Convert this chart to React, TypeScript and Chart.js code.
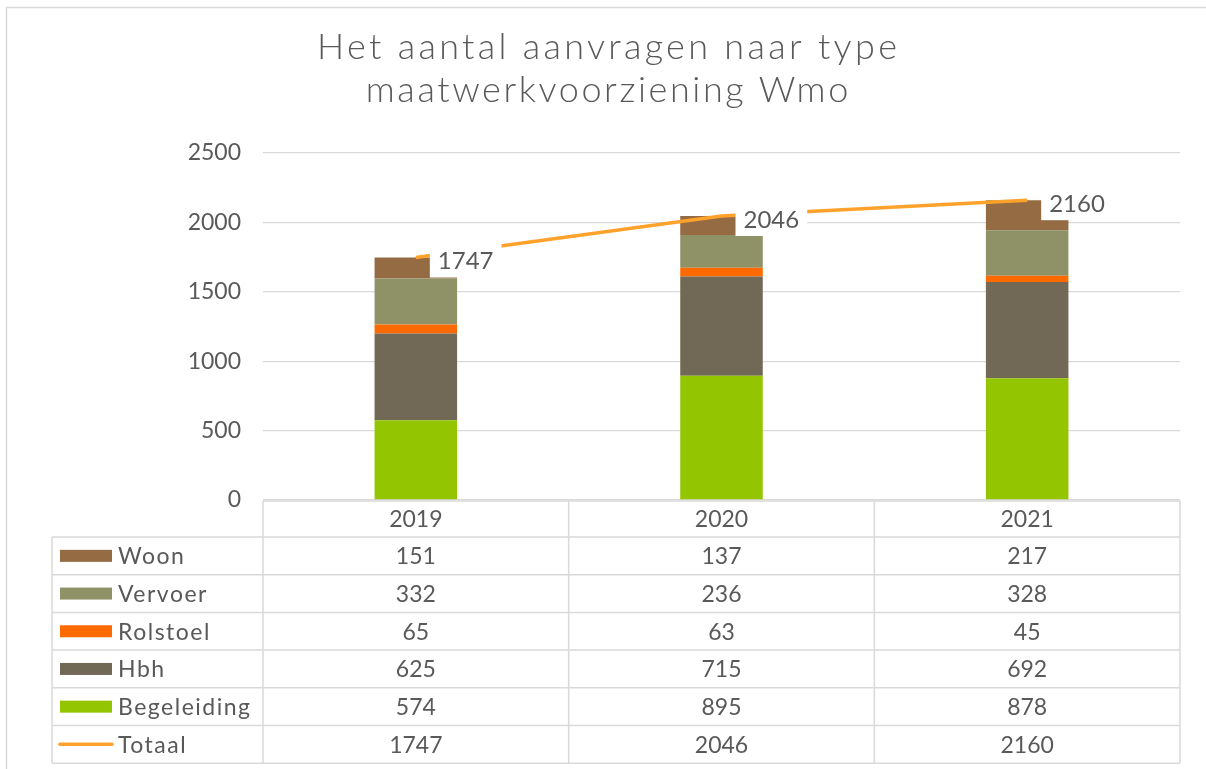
import React, { useEffect, useRef } from "react";
import { Chart, registerables } from "chart.js";

Chart.register(...registerables);

const categories = ["2019", "2020", "2021"];
const woon = [151, 137, 217];
const vervoer = [332, 236, 328];
const rolstoel = [65, 63, 45];
const hbh = [625, 715, 692];
const begeleiding = [574, 895, 878];
const totaal = [1747, 2046, 2160];

const titleLines = ["Het aantal aanvragen naar type", "maatwerkvoorziening Wmo"];

const C_WOON = "#946B42";
const C_VERVOER = "#8F9166";
const C_ROLSTOEL = "#FF6A00";
const C_HBH = "#726856";
const C_BEGEL = "#93C500";
const C_TOTAAL = "#FFA22B";
const TEXT = "#595959";
const GRID = "#d9d9d9";
const FONT = "Lato";

const tableRows = [
  { name: "Woon", values: woon, color: C_WOON, line: false },
  { name: "Vervoer", values: vervoer, color: C_VERVOER, line: false },
  { name: "Rolstoel", values: rolstoel, color: C_ROLSTOEL, line: false },
  { name: "Hbh", values: hbh, color: C_HBH, line: false },
  { name: "Begeleiding", values: begeleiding, color: C_BEGEL, line: false },
  { name: "Totaal", values: totaal, color: C_TOTAAL, line: true },
];

function centeredSpaced(ctx: any, text: string, cx: number, y: number, spacing: number) {
  ctx.letterSpacing = `${spacing}px`;
  const w = ctx.measureText(text).width - spacing;
  ctx.textAlign = "left";
  ctx.fillText(text, cx - w / 2, y);
  ctx.letterSpacing = "0px";
}

const framePlugin = {
  id: "frame",
  beforeDraw(chart: any) {
    const ctx = chart.ctx;
    ctx.save();
    ctx.fillStyle = "#ffffff";
    ctx.fillRect(0, 0, chart.width, chart.height);
    ctx.strokeStyle = GRID;
    ctx.lineWidth = 1.5;
    ctx.beginPath();
    ctx.moveTo(6.5, chart.height);
    ctx.lineTo(6.5, 7.5);
    ctx.lineTo(chart.width, 7.5);
    ctx.stroke();
    ctx.fillStyle = TEXT;
    ctx.font = `300 36px ${FONT}`;
    ctx.textBaseline = "alphabetic";
    centeredSpaced(ctx, titleLines[0], 607, 59, 3.3);
    centeredSpaced(ctx, titleLines[1], 607, 102, 2.6);
    ctx.restore();
  },
};

const labelPlugin = {
  id: "totLabels",
  afterDatasetsDraw(chart: any) {
    const ctx = chart.ctx;
    const meta = chart.getDatasetMeta(5);
    ctx.save();
    ctx.font = `24px ${FONT}`;
    ctx.textAlign = "left";
    ctx.textBaseline = "middle";
    meta.data.forEach((pt: any, i: number) => {
      const bx = pt.x + 14;
      const cy = pt.y + 3;
      const txt = String(totaal[i]);
      const w = ctx.measureText(txt).width + 16;
      ctx.fillStyle = "#ffffff";
      ctx.fillRect(bx, cy - 17, w, 34);
      ctx.fillStyle = TEXT;
      ctx.fillText(txt, bx + 8, cy + 1);
    });
    ctx.restore();
  },
};

const tablePlugin = {
  id: "dataTable",
  afterDraw(chart: any) {
    const ctx = chart.ctx;
    const area = chart.chartArea;
    const xs = chart.scales.x;
    const left = area.left;
    const right = area.right;
    const colW = (right - left) / categories.length;
    const tableLeft = 52;
    const headTop = area.bottom + 1;
    const headH = 36;
    const rowH = 37.7;
    const bodyTop = headTop + headH;
    const bottom = bodyTop + rowH * tableRows.length;
    ctx.save();
    ctx.strokeStyle = GRID;
    ctx.lineWidth = 1.5;
    ctx.beginPath();
    ctx.moveTo(left, headTop);
    ctx.lineTo(right, headTop);
    for (let r = 0; r <= tableRows.length; r++) {
      const y = bodyTop + r * rowH;
      ctx.moveTo(tableLeft, y);
      ctx.lineTo(right, y);
    }
    for (let c = 0; c <= categories.length; c++) {
      const x = left + c * colW;
      ctx.moveTo(x, headTop);
      ctx.lineTo(x, bottom);
    }
    ctx.moveTo(tableLeft, bodyTop);
    ctx.lineTo(tableLeft, bottom);
    ctx.stroke();

    ctx.fillStyle = TEXT;
    ctx.font = `23px ${FONT}`;
    ctx.textAlign = "center";
    ctx.textBaseline = "middle";
    categories.forEach((c, i) => {
      ctx.fillText(c, xs.getPixelForValue(i), headTop + headH / 2 + 1);
    });
    tableRows.forEach((row, r) => {
      const cy = bodyTop + r * rowH + rowH / 2;
      if (row.line) {
        ctx.strokeStyle = row.color;
        ctx.lineWidth = 3.5;
        ctx.lineCap = "round";
        ctx.beginPath();
        ctx.moveTo(60, cy);
        ctx.lineTo(112, cy);
        ctx.stroke();
      } else {
        ctx.fillStyle = row.color;
        ctx.fillRect(60, cy - 6, 52, 12);
      }
      ctx.fillStyle = TEXT;
      ctx.textAlign = "left";
      ctx.letterSpacing = "1.5px";
      ctx.fillText(row.name, 118, cy + 1);
      ctx.letterSpacing = "0px";
      ctx.textAlign = "center";
      row.values.forEach((v, i) => {
        ctx.fillText(String(v), xs.getPixelForValue(i), cy + 1);
      });
    });
    ctx.restore();
  },
};

export default function App() {
  const ref = useRef<HTMLCanvasElement | null>(null);
  useEffect(() => {
    if (!ref.current) return;
    const barBase = {
      type: "bar" as const,
      stack: "s",
      order: 1,
      borderWidth: 0,
      categoryPercentage: 1,
      barPercentage: 0.27,
    };
    const chart = new Chart(ref.current, {
      type: "bar",
      data: {
        labels: categories,
        datasets: [
          { ...barBase, label: "Begeleiding", data: begeleiding, backgroundColor: C_BEGEL },
          { ...barBase, label: "Hbh", data: hbh, backgroundColor: C_HBH },
          { ...barBase, label: "Rolstoel", data: rolstoel, backgroundColor: C_ROLSTOEL },
          { ...barBase, label: "Vervoer", data: vervoer, backgroundColor: C_VERVOER },
          { ...barBase, label: "Woon", data: woon, backgroundColor: C_WOON },
          {
            type: "line" as const,
            label: "Totaal",
            data: totaal,
            stack: "t",
            order: 0,
            borderColor: C_TOTAAL,
            backgroundColor: C_TOTAAL,
            borderWidth: 3.5,
            pointRadius: 0,
            tension: 0,
          } as any,
        ],
      },
      options: {
        responsive: false,
        animation: false,
        layout: { padding: { left: 0, right: 26, top: 153, bottom: 269 } },
        plugins: {
          legend: { display: false },
          title: { display: false },
          tooltip: { enabled: false },
        },
        scales: {
          x: { display: false, stacked: true, offset: true },
          y: {
            stacked: true,
            min: 0,
            max: 2500,
            ticks: {
              stepSize: 500,
              color: TEXT,
              font: { family: FONT, size: 23 },
              padding: 22,
              callback: (v: any) => String(v),
            },
            grid: { color: GRID, lineWidth: 1.3, drawTicks: false },
            border: { display: false },
            afterFit: (scale: any) => {
              scale.width = 263;
            },
          },
        },
      },
      plugins: [framePlugin, labelPlugin, tablePlugin],
    });
    return () => chart.destroy();
  }, []);
  return (
    <div style={{ position: "fixed", left: 0, top: 0, width: 1206, height: 769, background: "#fff" }}>
      <canvas ref={ref} width={1206} height={769} />
    </div>
  );
}
